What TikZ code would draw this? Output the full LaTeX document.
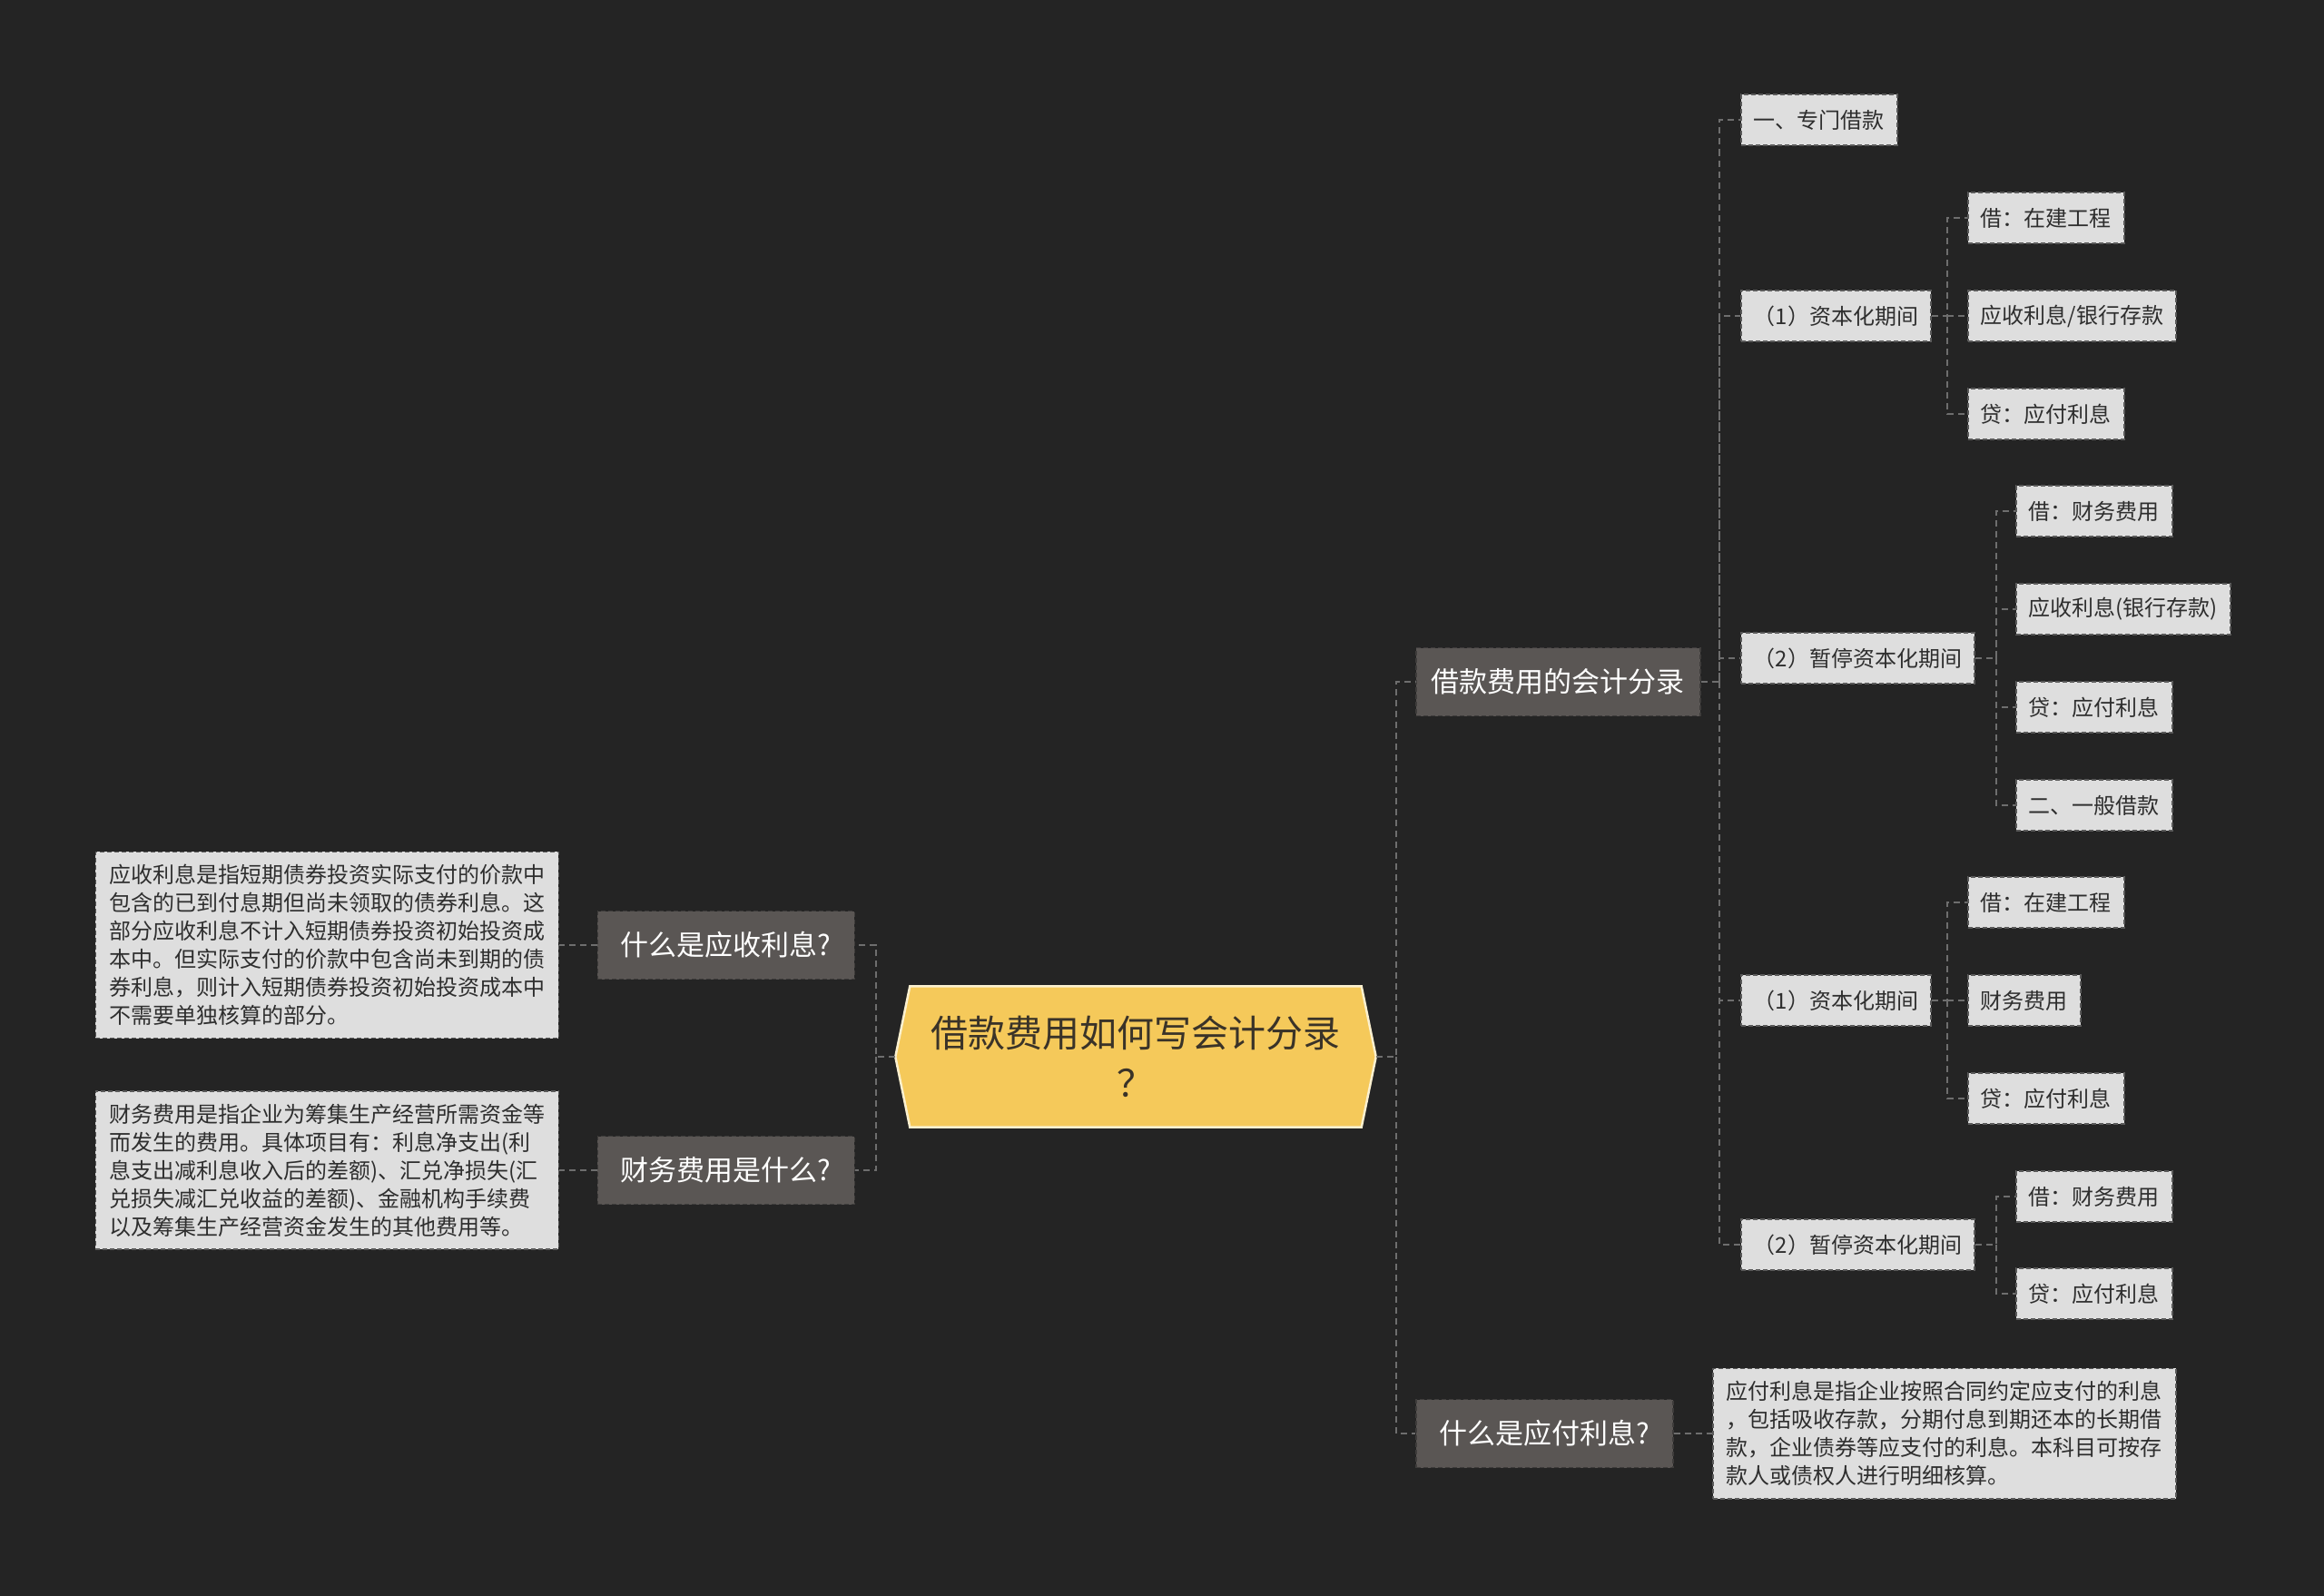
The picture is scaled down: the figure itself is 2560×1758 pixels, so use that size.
\documentclass[tikz,border=0pt]{standalone}
\usepackage{fontspec}
\setmainfont{Noto Sans CJK SC}
\definecolor{bg}{HTML}{242424}
\definecolor{connc}{HTML}{6E6E6E}
\definecolor{lonefill}{HTML}{5A5654}
\definecolor{loneborder}{HTML}{3E3C3B}
\definecolor{leaffill}{HTML}{DEDEDE}
\definecolor{leafborder}{HTML}{5A5A5A}
\definecolor{leaftext}{HTML}{2E2E2E}
\definecolor{rootfill}{HTML}{F5C95A}
\definecolor{rootborder}{HTML}{FBF0CF}
\definecolor{roottext}{HTML}{3A3328}
\begin{document}
\begin{tikzpicture}[x=1pt,y=-1pt,
  conn/.style={draw=connc, line width=2pt, dash pattern=on 7pt off 5pt},
  lone/.style={fill=lonefill, draw=loneborder, line width=1.5pt, dash pattern=on 5pt off 3pt,
    text=white, font=\fontsize{31}{38}\selectfont, inner xsep=17pt, inner ysep=0pt, minimum height=75pt},
  qbox/.style={lone, minimum width=283pt},
  leaf/.style={fill=leaffill, draw=leafborder, line width=1.5pt, dash pattern=on 5pt off 3pt,
    text=leaftext, font=\fontsize{24}{28}\selectfont, inner xsep=14pt, inner ysep=0pt, minimum height=56pt},
  note/.style={leaf, align=left, font=\fontsize{24}{31}\selectfont, inner xsep=15pt, inner ysep=14pt},
  rootbox/.style={text=roottext, align=center, font=\fontsize{41}{55}\selectfont,
    minimum width=529pt, minimum height=155pt, inner sep=0pt}
]
\fill[bg] (0,0) rectangle (2560,1758);
\useasboundingbox (0,0) rectangle (2560,1758);

% root
\node[rootbox] (root) at (1251,1164) {};
\fill[rootfill, draw=rootborder, line width=2.5pt]
  (root.west) -- ([xshift=16pt]root.north west) -- ([xshift=-16pt]root.north east)
  -- (root.east) -- ([xshift=-16pt]root.south east) -- ([xshift=16pt]root.south west) -- cycle;
\node[rootbox] at (root.center) {借款费用如何写会计分录\\？};

% level 1
\node[lone, anchor=west] (a) at (1559,751) {借款费用的会计分录};
\node[qbox, anchor=west] (b) at (1559,1579) {什么是应付利息?};
\node[qbox, anchor=east] (c) at (942,1041) {什么是应收利息?};
\node[qbox, anchor=east] (d) at (942,1289) {财务费用是什么?};

% notes
\node[note, anchor=east] (cn) at (616,1041) {应收利息是指短期债券投资实际支付的价款中\\包含的已到付息期但尚未领取的债券利息。这\\部分应收利息不计入短期债券投资初始投资成\\本中。但实际支付的价款中包含尚未到期的债\\券利息，则计入短期债券投资初始投资成本中\\不需要单独核算的部分。};
\node[note, anchor=east] (dn) at (616,1289) {财务费用是指企业为筹集生产经营所需资金等\\而发生的费用。具体项目有：利息净支出(利\\息支出减利息收入后的差额)、汇兑净损失(汇\\兑损失减汇兑收益的差额)、金融机构手续费\\以及筹集生产经营资金发生的其他费用等。};
\node[note, anchor=west] (bn) at (1886,1579) {应付利息是指企业按照合同约定应支付的利息\\，包括吸收存款，分期付息到期还本的长期借\\款，企业债券等应支付的利息。本科目可按存\\款人或债权人进行明细核算。};

% level 2
\node[leaf, anchor=west] (a1) at (1917,132) {一、专门借款};
\node[leaf, anchor=west] (a2) at (1917,348) {（1）资本化期间};
\node[leaf, anchor=west] (a3) at (1917,725) {（2）暂停资本化期间};
\node[leaf, anchor=west] (a4) at (1917,1102) {（1）资本化期间};
\node[leaf, anchor=west] (a5) at (1917,1371) {（2）暂停资本化期间};

% level 3
\node[leaf, anchor=west] (a21) at (2167,240) {借：在建工程};
\node[leaf, anchor=west] (a22) at (2167,348) {应收利息/银行存款};
\node[leaf, anchor=west] (a23) at (2167,456) {贷：应付利息};
\node[leaf, anchor=west] (a31) at (2220,563) {借：财务费用};
\node[leaf, anchor=west] (a32) at (2220,671) {应收利息(银行存款)};
\node[leaf, anchor=west] (a33) at (2220,779) {贷：应付利息};
\node[leaf, anchor=west] (a34) at (2220,887) {二、一般借款};
\node[leaf, anchor=west] (a41) at (2167,994) {借：在建工程};
\node[leaf, anchor=west] (a42) at (2167,1102) {财务费用};
\node[leaf, anchor=west] (a43) at (2167,1210) {贷：应付利息};
\node[leaf, anchor=west] (a51) at (2220,1318) {借：财务费用};
\node[leaf, anchor=west] (a52) at (2220,1425) {贷：应付利息};

% junction coordinates
\coordinate (vR) at (1538,1164);
\coordinate (vL) at (965,1164);
\coordinate (va) at (1894,751);
\coordinate (va2) at (2145,348);
\coordinate (va3) at (2199,725);
\coordinate (va4) at (2145,1102);
\coordinate (va5) at (2199,1371);

% connectors
\draw[conn] (root.east) -- (vR) |- (a.west);
\draw[conn] (vR) |- (b.west);
\draw[conn] (root.west) -- (vL) |- (c.east);
\draw[conn] (vL) |- (d.east);
\draw[conn] (c.west) -- (cn.east);
\draw[conn] (d.west) -- (dn.east);
\draw[conn] (b.east) -- (bn.west);

\draw[conn] (a.east) -- (va) |- (a1.west);
\foreach \n in {a2,a3,a4,a5} \draw[conn] (va) |- (\n.west);

\draw[conn] (a2.east) -- (va2) |- (a21.west);
\draw[conn] (va2) |- (a23.west);
\draw[conn] (va2) -- (a22.west);

\draw[conn] (a3.east) -- (va3) |- (a31.west);
\foreach \n in {a32,a33,a34} \draw[conn] (va3) |- (\n.west);

\draw[conn] (a4.east) -- (va4) |- (a41.west);
\draw[conn] (va4) |- (a43.west);
\draw[conn] (va4) -- (a42.west);

\draw[conn] (a5.east) -- (va5) |- (a51.west);
\draw[conn] (va5) |- (a52.west);
\end{tikzpicture}
\end{document}
